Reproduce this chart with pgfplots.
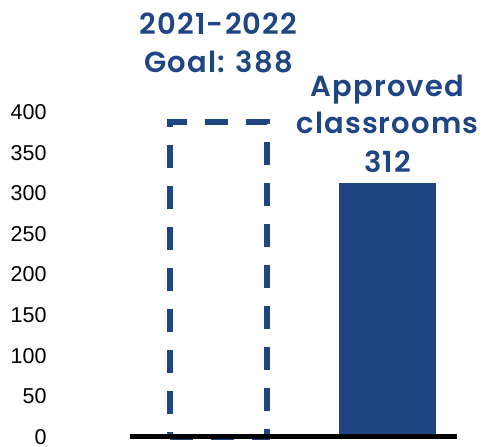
\documentclass[border=0pt]{standalone}
\usepackage{pgfplots}
\pgfplotsset{compat=1.18}
\usepackage{fontspec}
\setmainfont{Liberation Sans}
\newfontfamily\titlefont{Poppins}[BoldFont={* SemiBold}, LetterSpace=4]
\definecolor{navy}{HTML}{1F4582}

\begin{document}
\begin{tikzpicture}
\begin{axis}[
    scale only axis,
    width=327pt,
    height=325pt,
    xmin=0.4763, xmax=2.4112,
    ymin=0, ymax=400,
    axis line style={draw=none},
    xtick=\empty,
    ytick={0,50,...,400},
    major tick length=0pt,
    yticklabel style={anchor=east, xshift=-80pt, font=\fontsize{21.5}{24}\selectfont},
    /pgf/number format/assume math mode=true,
    clip=false,
    ybar,
    bar width=97pt,
    bar shift=0pt,
]
% goal: dashed outline
\addplot[draw=navy, fill=none, line width=6pt, dash pattern=on 23pt off 18pt]
    coordinates {(1,388)};
% approved
\addplot[draw=none, fill=navy] coordinates {(2,312)};

\draw[line width=5pt, black] (axis cs:0.4763,0) -- (axis cs:2.4112,0);

\begin{scope}[every node/.style={anchor=base, text=navy,
    font=\titlefont\bfseries\fontsize{29}{32}\selectfont}]
\node at (axis cs:1,494.8) {2021-2022};
\node at (axis cs:1,448) {Goal: 388};
\node at (axis cs:2,418.5) {Approved};
\node at (axis cs:2,373) {classrooms};
\node at (axis cs:2,326) {312};
\end{scope}
\coordinate (O) at (rel axis cs:0,0);
\end{axis}
\pgfresetboundingbox
\path ([shift={(-130pt,-10pt)}]O) rectangle ([shift={(353pt,437pt)}]O);
\end{tikzpicture}
\end{document}
